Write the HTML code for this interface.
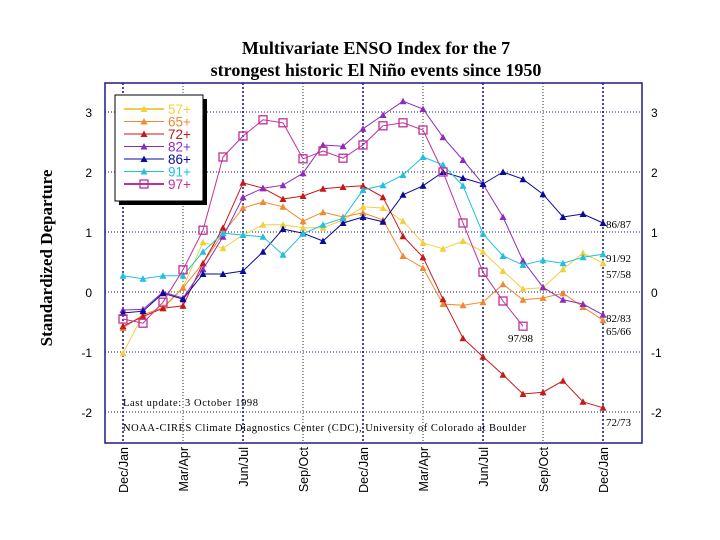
<!DOCTYPE html>
<html><head><meta charset="utf-8"><style>
body{margin:0;background:#fff;}
svg{display:block;}
</style></head><body>
<svg id="chart" width="720" height="540" xmlns="http://www.w3.org/2000/svg">
<text x="376" y="54" text-anchor="middle" font-family="Liberation Serif, serif" font-weight="bold" font-size="18">Multivariate ENSO Index for the 7</text>
<text x="376" y="76" text-anchor="middle" font-family="Liberation Serif, serif" font-weight="bold" font-size="18">strongest historic El Niño events since 1950</text>
<text transform="translate(52,258) rotate(-90)" text-anchor="middle" font-family="Liberation Serif, serif" font-weight="bold" font-size="17">Standardized Departure</text>
<g id="grid"></g>
<rect x="105" y="83" width="537" height="360" fill="none" stroke="#1a1a8a" stroke-width="1.5"/>
<g id="series"></g>
<text x="123" y="406" font-family="Liberation Serif, serif" font-size="10.5" textLength="135" lengthAdjust="spacing">Last update:  3 October 1998</text>
<text x="123" y="431" font-family="Liberation Serif, serif" font-size="10.5" textLength="403" lengthAdjust="spacing">NOAA-CIRES Climate Diagnostics Center (CDC), University of Colorado at Boulder</text>
<g id="legend">
<rect x="119" y="99" width="88" height="106" fill="#000"/>
<rect x="115" y="95" width="88" height="106" fill="#fff" stroke="#000" stroke-width="1"/>
</g>
</svg>
<script>
const months = ["Dec/Jan","Mar/Apr","Jun/Jul","Sep/Oct","Dec/Jan","Mar/Apr","Jun/Jul","Sep/Oct","Dec/Jan"];
const yTicks = [3,2,1,0,-1,-2];
const seriesNames = ["57+","65+","72+","82+","86+","91+","97+"];
const endLabels = ["57/58","65/66","72/73","82/83","86/87","91/92","97/98"];
const colors = ["#f0d040","#f08a30","#c81818","#8a2cc0","#0a0a9a","#20c0e0","#c0309a"];
const s57 = [-1.02,-0.38,-0.25,0.08,0.83,0.73,0.95,1.12,1.12,1.07,1.07,1.2,1.42,1.4,1.18,0.82,0.72,0.85,0.67,0.35,0.05,0.07,0.38,0.65,0.48];
const s65 = [-0.6,-0.38,-0.27,0.07,0.48,0.98,1.4,1.5,1.42,1.18,1.33,1.25,1.32,1.2,0.6,0.4,-0.2,-0.22,-0.17,0.13,-0.13,-0.1,-0.02,-0.25,-0.47];
const s72 = [-0.57,-0.41,-0.27,-0.23,0.48,1.07,1.82,1.73,1.55,1.6,1.72,1.75,1.77,1.58,0.93,0.58,-0.12,-0.77,-1.08,-1.38,-1.7,-1.67,-1.48,-1.83,-1.93];
const s82 = [-0.3,-0.29,0.0,-0.1,0.38,0.92,1.58,1.73,1.78,1.98,2.45,2.43,2.72,2.95,3.18,3.05,2.58,2.2,1.8,1.25,0.52,0.08,-0.13,-0.2,-0.38];
const s86 = [-0.35,-0.32,-0.02,-0.12,0.3,0.3,0.35,0.67,1.05,0.98,0.85,1.15,1.25,1.17,1.62,1.77,2.0,1.9,1.8,2.0,1.88,1.63,1.25,1.3,1.15];
const s91 = [0.27,0.22,0.27,0.27,0.67,0.98,0.95,0.92,0.62,0.97,1.12,1.23,1.7,1.78,1.95,2.25,2.12,1.77,0.97,0.6,0.45,0.53,0.48,0.58,0.63];
const s97 = [-0.45,-0.52,-0.17,0.37,1.03,2.25,2.6,2.87,2.82,2.22,2.35,2.23,2.45,2.77,2.82,2.7,2.0,1.15,0.33,-0.15,-0.57];
const allSeries = [s57,s65,s72,s82,s86,s91,s97];

const NS = "http://www.w3.org/2000/svg";
const xs = i => 123 + 20*i;
const ys = v => 292 - 60*v;
function mk(tag, attrs, parent){const e=document.createElementNS(NS,tag);for(const k in attrs)e.setAttribute(k,attrs[k]);parent.appendChild(e);return e;}
const grid = document.getElementById('grid');
const svg = document.getElementById('chart');
yTicks.forEach(t=>{
  const l = mk('line',{x1:105,x2:642,y1:ys(t),y2:ys(t),stroke:'#1a1a6a','stroke-width':1,'stroke-dasharray':'1,2'},grid);
  
  
  const a = mk('text',{x:92,y:ys(t)+5,'text-anchor':'end','font-family':'Liberation Sans, sans-serif','font-size':12},svg);
  a.textContent = t;
  
  
  const b = mk('text',{x:651,y:ys(t)+5,'font-family':'Liberation Sans, sans-serif','font-size':12},svg);
  b.textContent = t;
  
  
});
months.forEach((m,k)=>{
  const x = xs(k*3);
  const solid = (k%2===0);
  const l = mk('line',{x1:x,x2:x,y1:83,y2:443,stroke:solid?'#1a1a9a':'#333','stroke-width':solid?1.6:1,'stroke-dasharray':solid?'2,2':'1,2'},grid);
  
  
  const t = mk('text',{transform:`translate(${x+5},447) rotate(-90)`,'text-anchor':'end','font-family':'Liberation Sans, sans-serif','font-size':12.5},svg);
  t.textContent = m;
  
  
});
const sg = document.getElementById('series');
allSeries.forEach((data,si)=>{
  const c = colors[si];
  const pts = data.map((v,i)=>xs(i)+','+ys(v)).join(' ');
  const pl = mk('polyline',{points:pts,fill:'none',stroke:c,'stroke-width':1},sg);
  
  
  data.forEach((v,i)=>{
    let m;
    if(si===6){
      m = mk('rect',{x:xs(i)-4,y:ys(v)-4,width:8,height:8,fill:'none',stroke:c,'stroke-width':1.3},sg);
    } else {
      const x=xs(i), y=ys(v);
      m = mk('polygon',{points:`${x-3.5},${y+3} ${x+3.5},${y+3} ${x},${y-3.5}`,fill:c},sg);
    }
    
    
  });
});
const endPos = [[606,278],[606,335],[606,426],[606,322],[606,228],[606,262],[508,342]];
endLabels.forEach((lab,i)=>{
  const t = mk('text',{x:endPos[i][0],y:endPos[i][1],'font-family':'Liberation Serif, serif','font-size':11},svg);
  t.textContent = lab;
  
  
});
const lg = document.getElementById('legend');
seriesNames.forEach((n,i)=>{
  const y = 109 + i*12.5;
  const l = mk('line',{x1:124,x2:164,y1:y,y2:y,stroke:colors[i],'stroke-width':i===0||i===6?2:1},lg);
  
  
  let m;
  if(i===6){ m = mk('rect',{x:140,y:y-4,width:8,height:8,fill:'none',stroke:colors[i],'stroke-width':1.3},lg); }
  else { m = mk('polygon',{points:`${140.5},${y+3} ${147.5},${y+3} ${144},${y-3.5}`,fill:colors[i]},lg); }
  
  
  const t = mk('text',{x:168,y:y+5,fill:colors[i],'font-family':'Liberation Sans, sans-serif','font-size':13.5},lg);
  t.textContent = n;
  
  
});
</script>
</body></html>
